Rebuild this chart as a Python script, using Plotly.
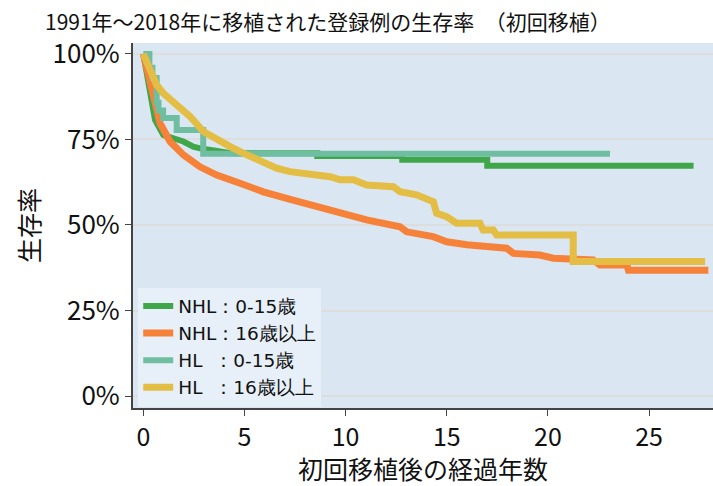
import plotly.graph_objects as go

# 生存率 (%) vs 初回移植後の経過年数
nhl_child_t = [0, 0.17, 0.28, 0.41, 0.58, 0.99, 1.48, 1.98, 2.47, 2.8, 3.5, 4.3,
               8.6, 8.6, 12.8, 12.8, 17.0, 17.0, 27.2]
nhl_child_s = [100, 94, 89.5, 84.6, 80.7, 76.3, 75.3, 74.4, 72.9, 72.4, 71.8, 71.0,
               71.0, 70.2, 70.2, 69.1, 69.1, 67.3, 67.3]

nhl_adult_t = [0, 0.33, 0.58, 0.83, 1.32, 1.98, 2.8, 3.63, 4.78, 5.93, 7.4, 8.57,
               9.39, 11.04, 12.69, 13.02, 14.33, 15.0, 15.99, 17.63, 17.96, 18.29,
               19.6, 20.27, 21.58, 22.24, 22.57, 23.9, 23.98, 27.93]
nhl_adult_s = [100, 91.4, 84.6, 79.7, 74.4, 70.5, 67.0, 64.6, 62.2, 59.7, 57.3, 55.3,
               54.4, 51.5, 49.5, 48.0, 46.6, 45.1, 44.2, 43.7, 43.2, 41.7,
               41.2, 40.3, 40.3, 39.8, 38.3, 38.3, 36.8, 36.8]

hl_child_t = [0, 0.3, 0.45, 0.66, 0.75, 0.98, 1.65, 2.96, 23.07]
hl_child_s = [100, 96, 93, 85.7, 83.5, 81.3, 77.8, 70.8, 70.8]

hl_adult_t = [0, 0.33, 0.66, 0.99, 1.65, 2.31, 2.97, 3.63, 4.29, 4.94, 5.44, 6.1,
              6.59, 7.25, 8.24, 9.23, 9.73, 10.38, 11.04, 12.36, 12.69, 13.51,
              14.34, 14.5, 15.0, 15.49, 16.64, 16.8, 17.3, 17.46, 21.25, 21.25, 27.77]
hl_adult_s = [100, 95.3, 90.9, 88.5, 85.1, 81.7, 77.3, 74.9, 72.9, 71.0, 69.5, 68.0,
              66.6, 65.6, 65.1, 64.1, 63.2, 63.2, 61.7, 61.2, 59.7, 58.8,
              56.8, 53.4, 52.4, 50.5, 50.5, 48.5, 48.5, 47.1, 47.1, 39.3, 39.3]

names = ["NHL：0-15歳", "NHL：16歳以上", "HL\u2007：0-15歳", "HL\u2007：16歳以上"]
colors = ["#3fa649", "#f6823a", "#6fbea2", "#e3bd44"]
x_ticks = [0, 5, 10, 15, 20, 25]
y_ticks = [0, 25, 50, 75, 100]
y_tick_text = ["0%", "25%", "50%", "75%", "100%"]

FONT = "Noto Sans CJK JP"
LEGEND_FONT = "DejaVu Sans"

fig = go.Figure()
series = [
    (nhl_child_t, nhl_child_s, "linear", 6),
    (nhl_adult_t, nhl_adult_s, "linear", 7),
    (hl_child_t, hl_child_s, "hv", 6),
    (hl_adult_t, hl_adult_s, "linear", 7),
]
for (t, s, shape, w), name, c in zip(series, names, colors):
    fig.add_trace(go.Scatter(
        x=t, y=s, mode="lines", name=name,
        line=dict(color=c, width=w, shape=shape),
    ))

fig.update_layout(
    width=713, height=486,
    margin=dict(l=133, r=0, t=43, b=78),
    paper_bgcolor="white",
    plot_bgcolor="#dae7f2",
    font=dict(family=FONT, color="#111111"),
    title=dict(
        text="1991年～2018年に移植された登録例の生存率　（初回移植）",
        x=45 / 713, xanchor="left", y=1 - 23 / 486, yanchor="middle",
        font=dict(size=21, family=FONT, color="#111111"),
    ),
    showlegend=True,
    legend=dict(
        x=0.009, y=0.33, xanchor="left", yanchor="top",
        bgcolor="#e7f0f8", borderwidth=0,
        font=dict(size=18.5, family=LEGEND_FONT, color="#111111"),
        itemwidth=30,
    ),
)

fig.update_xaxes(
    range=[-0.51, 28.16], tickvals=x_ticks,
    showgrid=False, zeroline=False,
    showline=True, linecolor="#444444", linewidth=2,
    ticks="outside", ticklen=6, tickcolor="#444444", tickwidth=1,
    tickfont=dict(size=25, family=FONT),
    title=dict(text="初回移植後の経過年数", font=dict(size=25, family=FONT), standoff=4),
)
fig.update_yaxes(
    range=[-3.5, 103.2], tickvals=y_ticks, ticktext=y_tick_text,
    showgrid=True, gridcolor="#dddddd", gridwidth=2, zeroline=False,
    showline=True, linecolor="#444444", linewidth=2,
    ticks="outside", ticklen=6, tickcolor="#444444", tickwidth=1,
    tickfont=dict(size=26, family=FONT),
    title=dict(text="生存率", font=dict(size=25, family=FONT), standoff=6),
)

fig.write_html("out.html")
